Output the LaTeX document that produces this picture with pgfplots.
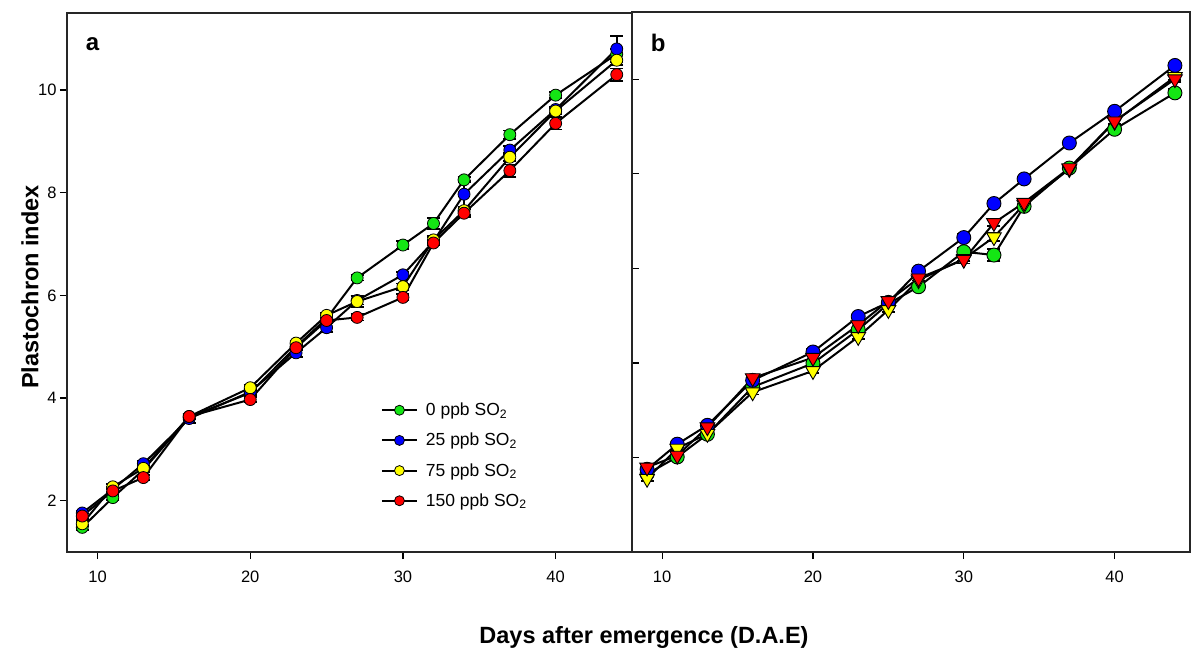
\documentclass[border=0pt]{standalone}
\usepackage{pgfplots}
\pgfplotsset{compat=1.18}
\usepackage{fontspec}
\setmainfont{Liberation Sans}
\definecolor{cg}{RGB}{20,230,20}
\definecolor{cb}{RGB}{0,0,255}
\definecolor{cy}{RGB}{255,255,0}
\definecolor{cr}{RGB}{255,0,0}
\pgfplotsset{
  common/.style={
    scale only axis, xmin=8, xmax=45, xtick={10,20,30,40},
    axis line style={line width=1.5pt, black!85},
    tick style={line width=1.3pt, black},
    major tick length=7pt,
    xtick pos=bottom, ytick pos=left,
    xtick align=outside,
    tick label style={font=\fontsize{16.5}{18}\selectfont},
    x tick label style={yshift=-8pt},
    /pgf/number format/assume math mode=true,
    clip=false,
    legend image code/.code={\draw[mark repeat=2,mark phase=2,##1,mark size=5pt] plot coordinates {(0pt,0pt)(17.5pt,0pt)(35pt,0pt)};},
  },
  ser/.style={black, line width=2pt,
    error bars/y dir=both, error bars/y explicit,
    error bars/error bar style={line width=1.8pt, black},
    error bars/error mark options={rotate=90, mark size=6.5pt, line width=1.8pt, black}},
}
\begin{document}
\begin{tikzpicture}
\path[use as bounding box] (0pt,0pt) rectangle (1195pt,-657pt);
% ---------------- panel a
\begin{axis}[common, at={(67pt,-13pt)}, anchor=north west, width=565pt, height=539pt,
  ymin=1, ymax=11.5, ytick={2,4,6,8,10}, ytick align=outside,
  legend style={at={(0.55,0.284)}, anchor=north west, draw=none, fill=none,
    font=\fontsize{17.5}{20}\selectfont, row sep=12pt,
    /tikz/every odd column/.append style={column sep=6pt}},
  legend cell align=left]
\addplot[ser, mark=*, mark size=6pt, mark options={draw=black, line width=0.8pt, fill=cg}] table[x index=0,y index=1,y error index=2] {
9 1.48 0.05
11 2.06 0.05
13 2.60 0.05
16 3.63 0.05
20 4.10 0.05
23 5.00 0.05
25 5.55 0.06
27 6.34 0.05
30 6.98 0.08
32 7.40 0.10
34 8.25 0.05
37 9.13 0.08
40 9.90 0.06
44 10.70 0.10
};
\addplot[ser, mark=*, mark size=6pt, mark options={draw=black, line width=0.8pt, fill=cb}] table[x index=0,y index=1,y error index=2] {
9 1.76 0.05
11 2.22 0.05
13 2.72 0.05
16 3.60 0.08
20 4.12 0.05
23 4.88 0.08
25 5.37 0.08
27 5.90 0.08
30 6.40 0.06
32 7.05 0.08
34 7.97 0.25
37 8.83 0.08
40 9.62 0.06
44 10.80 0.25
};
\addplot[ser, mark=*, mark size=6pt, mark options={draw=black, line width=0.8pt, fill=cy}] table[x index=0,y index=1,y error index=2] {
9 1.55 0.05
11 2.27 0.05
13 2.63 0.05
16 3.64 0.05
20 4.20 0.05
23 5.07 0.05
25 5.61 0.05
27 5.88 0.10
30 6.17 0.06
32 7.08 0.08
34 7.65 0.08
37 8.69 0.08
40 9.59 0.06
44 10.58 0.10
};
\addplot[ser, mark=*, mark size=6pt, mark options={draw=black, line width=0.8pt, fill=cr}] table[x index=0,y index=1,y error index=2] {
9 1.70 0.05
11 2.19 0.05
13 2.45 0.05
16 3.64 0.05
20 3.97 0.05
23 4.98 0.05
25 5.51 0.05
27 5.57 0.06
30 5.96 0.06
32 7.02 0.05
34 7.60 0.08
37 8.43 0.12
40 9.35 0.12
44 10.30 0.12
};
\legend{0 ppb SO\textsubscript{2}, 25 ppb SO\textsubscript{2}, 75 ppb SO\textsubscript{2}, 150 ppb SO\textsubscript{2}}
\node[font=\bfseries\fontsize{24}{24}\selectfont] at (rel axis cs:0.045,0.943) {a};
\end{axis}
% ---------------- panel b
\begin{axis}[common, at={(632pt,-12pt)}, anchor=north west, width=558pt, height=540pt,
  ymin=0, ymax=11.42, ytick={2,4,6,8,10}, yticklabels={}, ytick align=inside]
\addplot[ser, mark=*, mark size=7pt, mark options={draw=black, line width=0.9pt, fill=cg}] table[x index=0,y index=1,y error index=2] {
9 1.65 0.05
11 2.01 0.05
13 2.49 0.05
16 3.49 0.05
20 3.99 0.05
23 4.70 0.05
25 5.25 0.05
27 5.61 0.08
30 6.35 0.08
32 6.28 0.12
34 7.31 0.06
37 8.12 0.06
40 8.94 0.08
44 9.71 0.08
};
\addplot[ser, mark=*, mark size=7pt, mark options={draw=black, line width=0.9pt, fill=cb}] table[x index=0,y index=1,y error index=2] {
9 1.75 0.05
11 2.28 0.05
13 2.68 0.05
16 3.63 0.05
20 4.23 0.06
23 4.98 0.05
25 5.28 0.05
27 5.94 0.06
30 6.65 0.08
32 7.37 0.06
34 7.89 0.05
37 8.65 0.05
40 9.32 0.05
44 10.29 0.06
};
\addplot[ser, mark=triangle*, mark size=8.5pt, mark options={rotate=180, draw=black, line width=0.9pt, fill=cy}] table[x index=0,y index=1,y error index=2] {
9 1.55 0.05
11 2.19 0.05
13 2.50 0.05
16 3.38 0.05
20 3.83 0.05
23 4.55 0.05
25 5.12 0.05
27 5.75 0.05
30 6.20 0.05
32 6.66 0.08
34 7.35 0.05
37 8.10 0.05
40 9.10 0.05
44 10.05 0.06
};
\addplot[ser, mark=triangle*, mark size=8.5pt, mark options={rotate=180, draw=black, line width=0.9pt, fill=cr}] table[x index=0,y index=1,y error index=2] {
9 1.79 0.05
11 2.04 0.05
13 2.64 0.05
16 3.68 0.05
20 4.11 0.05
23 4.80 0.05
25 5.31 0.05
27 5.79 0.05
30 6.18 0.08
32 6.96 0.06
34 7.39 0.05
37 8.12 0.05
40 9.11 0.05
44 10.00 0.06
};
\node[font=\bfseries\fontsize{24}{24}\selectfont] at (rel axis cs:0.047,0.943) {b};
\end{axis}
\node[font=\bfseries\fontsize{23.5}{26}\selectfont, rotate=90] at (30pt,-287pt) {Plastochron index};
\node[font=\bfseries\fontsize{23.5}{26}\selectfont] at (644pt,-637pt) {Days after emergence (D.A.E)};
\end{tikzpicture}
\end{document}
